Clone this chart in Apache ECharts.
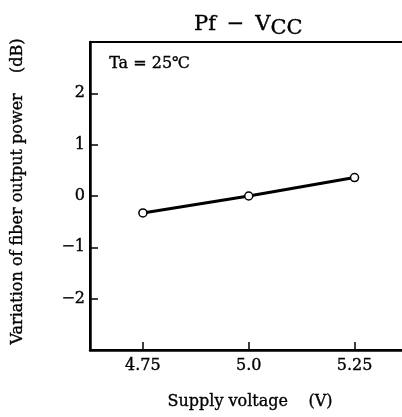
<!DOCTYPE html>
<html><head><meta charset="utf-8">
<script src="https://cdn.jsdelivr.net/npm/echarts@6/dist/echarts.min.js"></script>
<style>html,body{margin:0;padding:0;background:#fff}#c{width:402px;height:417px}</style>
</head><body><div id="c"></div>
<script>
const voltages = [4.75, 5.0, 5.25];
const pfVariation = [-0.33, 0.0, 0.36];
const xTickValues = [4.75, 5.0, 5.25];
const xTickLabels = ['4.75', '5.0', '5.25'];
const yTickValues = [-2, -1, 0, 1, 2];
const yTickLabels = ['\u22122', '\u22121', '0', '1', '2'];

const F = 'DejaVu Serif';
const TB = {textBorderColor: '#000', textBorderWidth: 0.35};
const chart = echarts.init(document.getElementById('c'), null, {renderer: 'canvas'});
chart.setOption({
  animation: false,
  backgroundColor: '#fff',
  title: {
    text: 'Pf \u2009\u2212\u2009 V{s|CC}',
    left: 189, top: 6,
    textStyle: Object.assign({fontFamily: F, fontSize: 21, fontWeight: 'normal', color: '#000',
      rich: {s: Object.assign({fontFamily: F, fontSize: 21, color: '#000', verticalAlign: 'bottom', padding: [7, 0, 0, 0]}, TB)}}, TB)
  },
  grid: {left: 90, top: 42, width: 320, height: 308, show: true, borderColor: '#000', borderWidth: 2, outerBoundsMode: 'none', containLabel: false},
  xAxis: {
    type: 'value', min: 4.625, max: 5.381,
    name: 'Supply voltage    (V)', nameLocation: 'middle', nameGap: 44,
    nameTextStyle: Object.assign({fontFamily: F, fontSize: 16, color: '#000'}, TB),
    axisLine: {show: true, onZero: false, lineStyle: {color: '#000', width: 2.5}},
    axisTick: {show: true, inside: true, length: 8, customValues: xTickValues, lineStyle: {color: '#000', width: 1.5}},
    axisLabel: Object.assign({customValues: xTickValues, margin: 8, fontFamily: F, fontSize: 16, color: '#000',
      formatter: v => xTickLabels[xTickValues.indexOf(v)] ?? ''}, TB),
    splitLine: {show: false}
  },
  yAxis: {
    type: 'value', min: -3, max: 3,
    name: 'Variation of fiber output power    (dB)', nameLocation: 'middle', nameGap: 64, nameRotate: 90,
    nameTextStyle: Object.assign({fontFamily: F, fontSize: 16, color: '#000', padding: [0, 0, 0, 9]}, TB),
    axisLine: {show: true, onZero: false, lineStyle: {color: '#000', width: 2.5}},
    axisTick: {show: true, inside: true, length: 8, customValues: yTickValues, lineStyle: {color: '#000', width: 1.5}},
    axisLabel: Object.assign({customValues: yTickValues, margin: 5, fontFamily: F, fontSize: 16, color: '#000',
      formatter: v => yTickLabels[yTickValues.indexOf(v)] ?? ''}, TB),
    splitLine: {show: false}
  },
  graphic: [{type: 'text', left: 109, top: 56, style: {text: 'Ta = 25\u2103', font: '16px "DejaVu Serif"', fill: '#000', stroke: '#000', lineWidth: 0.35}}],
  series: [{
    type: 'line', data: voltages.map((v, i) => [v, pfVariation[i]]),
    lineStyle: {color: '#000', width: 3},
    symbol: 'circle', symbolSize: 8,
    itemStyle: {color: '#fff', borderColor: '#000', borderWidth: 1.5}
  }]
});
</script></body></html>
